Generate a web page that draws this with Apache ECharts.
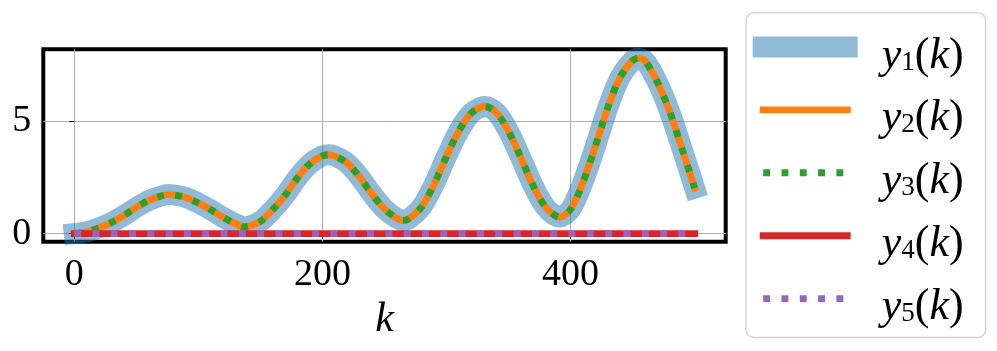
<!DOCTYPE html>
<html>
<head>
<meta charset="utf-8">
<script src="https://cdn.jsdelivr.net/npm/echarts@6/dist/echarts.min.js"></script>
<style>
html, body { margin: 0; padding: 0; background: #fff; }
#main { width: 997px; height: 351px; }
</style>
</head>
<body>
<div id="main"></div>
<script>
// values
var kValues = [0, 10, 20, 30, 40, 50, 60, 70, 76, 80, 90, 100, 110, 120, 130, 137, 150, 160, 170, 180,
    190, 200, 205, 210, 220, 230, 240, 250, 260, 265, 270, 280, 290, 300, 310, 320, 331, 340, 350, 360,
    370, 380, 391, 400, 410, 420, 430, 440, 450, 455, 460, 470, 480, 490, 500];
var y1Values = [0, 0.08, 0.26, 0.50, 0.81, 1.17, 1.48, 1.68, 1.74, 1.73, 1.61, 1.36, 1.06, 0.72, 0.44, 0.30, 0.55, 1.07, 1.72, 2.50,
    3.12, 3.47, 3.52, 3.46, 3.14, 2.52, 1.76, 1.10, 0.68, 0.59, 0.67, 1.20, 2.20, 3.45, 4.58, 5.38, 5.67, 5.41, 4.56, 3.37,
    2.12, 1.17, 0.74, 1.08, 2.30, 3.90, 5.62, 6.98, 7.72, 7.82, 7.70, 6.75, 5.42, 3.75, 2.03];
// y2 and y3 lie exactly on y1 in the picture
var y2Values = y1Values;
var y3Values = y1Values;
var kFlat = [0, 500];
var y4Values = [0, 0];
var y5Values = [0, 0];
var xTicks = [0, 200, 400];
var yTicks = [0, 5];
var subs = ['1', '2', '3', '4', '5'];

var FONT = 'Liberation Serif';

function pairs(xs, ys) {
    return xs.map(function (x, i) { return [x, ys[i]]; });
}

var myChart = echarts.init(document.getElementById('main'), null, { renderer: 'canvas' });

var styles = [
    { color: 'rgba(31,119,180,0.5)', width: 21, type: 'solid', cap: 'square' },
    { color: '#ff7f0e', width: 6.9, type: 'solid', cap: 'square' },
    { color: '#2ca02c', width: 6.9, type: [6.9, 11.4], cap: 'butt' },
    { color: '#d62728', width: 6.9, type: 'solid', cap: 'square' },
    { color: '#9467bd', width: 6.9, type: [6.9, 11.4], cap: 'butt' }
];
var datas = [
    pairs(kValues, y1Values),
    pairs(kValues, y2Values),
    pairs(kValues, y3Values),
    pairs(kFlat, y4Values),
    pairs(kFlat, y5Values)
];

var series = subs.map(function (s, i) {
    return {
        name: 'y' + s,
        type: 'line',
        data: datas[i],
        smooth: 0.3,
        showSymbol: false,
        symbol: 'none',
        color: styles[i].color,
        lineStyle: {
            color: styles[i].color,
            width: styles[i].width,
            type: styles[i].type,
            cap: styles[i].cap,
            join: 'round'
        },
        z: 2 + i
    };
});

var legendData = subs.map(function (s, i) {
    return {
        name: 'y' + s,
        itemStyle: { opacity: 0 },
        lineStyle: {
            color: styles[i].color,
            width: styles[i].width,
            type: styles[i].type,
            cap: styles[i].cap
        }
    };
});

var option = {
    animation: false,
    backgroundColor: '#fff',
    grid: {
        left: 43.3, top: 49.3, width: 682.4, height: 192.4,
        containLabel: false, outerBoundsMode: 'none',
        show: true, borderColor: '#000', borderWidth: 4, backgroundColor: 'transparent'
    },
    legend: {
        orient: 'vertical',
        left: 746, top: 12.7,
        padding: [21.3, 22, 8, 6.7],
        itemWidth: 84, itemHeight: 21, itemGap: 18.9,
        backgroundColor: '#fff',
        borderColor: '#d5d5d5', borderWidth: 1.5, borderRadius: 8,
        data: legendData,
        formatter: function (name) {
            return '{i|y}{s|' + name.slice(1) + '}{n|(}{i|k}{n|)}';
        },
        textStyle: {
            padding: [18, 0, 0, 29.5],
            rich: {
                i: { fontFamily: FONT, fontStyle: 'italic', fontSize: 44, lineHeight: 40, color: '#000' },
                n: { fontFamily: FONT, fontSize: 44, lineHeight: 40, color: '#000' },
                s: { fontFamily: FONT, fontSize: 27, lineHeight: 27, verticalAlign: 'bottom', color: '#000' }
            }
        }
    },
    xAxis: {
        type: 'value', min: -25, max: 525,
        name: 'k', nameLocation: 'middle', nameGap: 56,
        nameTextStyle: { fontFamily: FONT, fontStyle: 'italic', fontSize: 42, color: '#000' },
        axisLine: { show: false },
        axisTick: { show: true, length: 5, customValues: xTicks, lineStyle: { color: '#000', width: 1 } },
        axisLabel: { customValues: xTicks, fontFamily: FONT, fontSize: 38, color: '#000', margin: 14 },
        splitLine: { show: true, lineStyle: { color: '#b0b0b0', width: 1 } }
    },
    yAxis: {
        type: 'value', min: -0.36, max: 8.22,
        axisLine: { show: false },
        axisTick: { show: true, length: 5, customValues: yTicks, lineStyle: { color: '#000', width: 1 } },
        axisLabel: { customValues: yTicks, fontFamily: FONT, fontSize: 38, color: '#000', margin: 12 },
        splitLine: { show: true, lineStyle: { color: '#b0b0b0', width: 1 } }
    },
    series: series
};

myChart.setOption(option);
</script>
</body>
</html>
